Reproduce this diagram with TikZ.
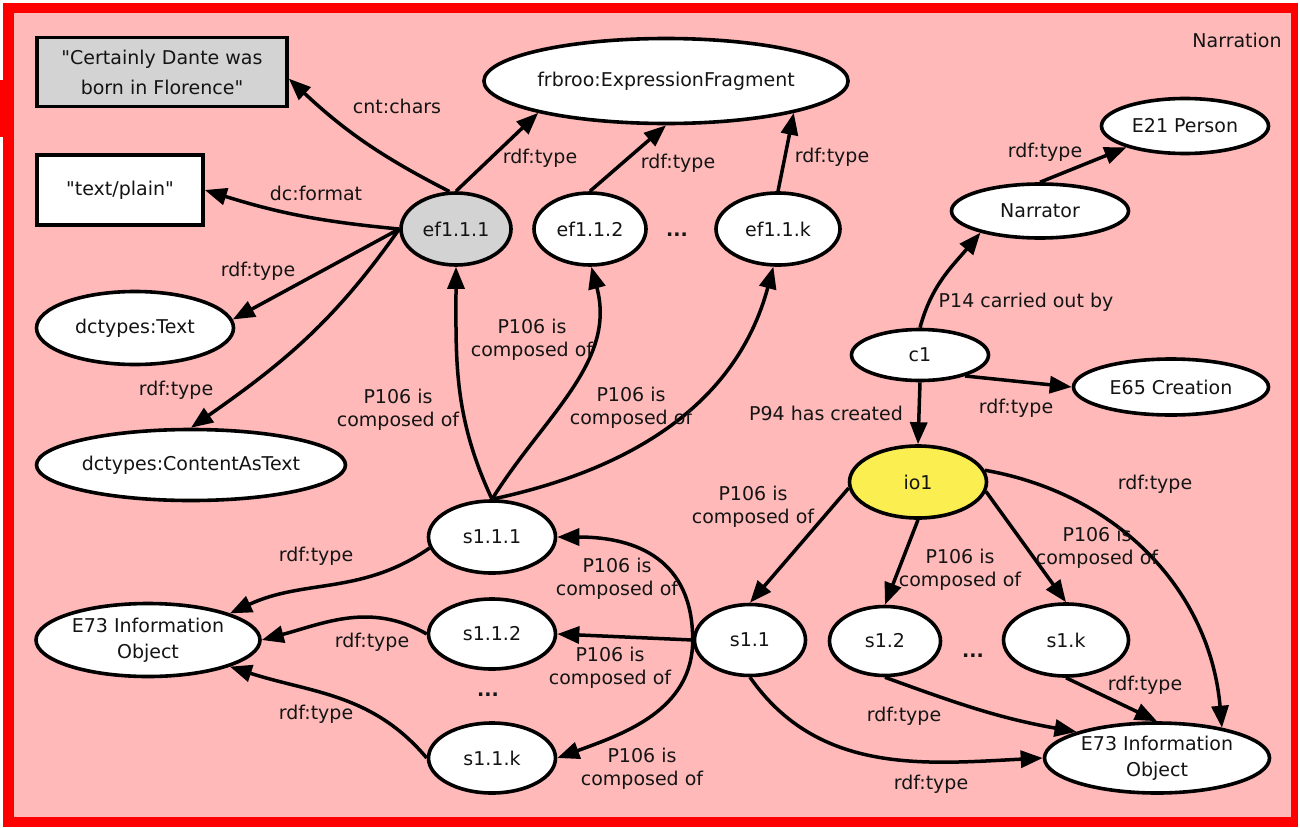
\documentclass[tikz,border=0pt]{standalone}
\usepackage{fontspec}
\setmainfont{DejaVu Sans}
\usetikzlibrary{shapes.geometric,arrows.meta}
\definecolor{bgpink}{RGB}{255,185,185}
\definecolor{framered}{RGB}{255,0,0}
\definecolor{nodegray}{RGB}{211,211,211}
\definecolor{ioyellow}{RGB}{250,238,80}
\definecolor{txt}{RGB}{20,20,20}
\newcommand\lbfont{\fontsize{19}{23}\selectfont}
\tikzset{
  ent/.style={ellipse, draw=black, line width=3.6pt, fill=white, inner sep=0pt, text=txt, font=\lbfont},
  boxnode/.style={rectangle, draw=black, line width=3.6pt, fill=white, inner sep=0pt, text=txt, align=center},
  lbl/.style={text=txt, font=\lbfont, align=center, inner sep=0pt},
  dotlbl/.style={text=txt, font=\lbfont\bfseries, inner sep=0pt},
  edge/.style={line width=3.5pt, draw=black, -{Triangle[length=22pt,width=17pt]}},
}
\begin{document}
\begin{tikzpicture}[x=1pt,y=1pt]
\useasboundingbox (0,0) rectangle (1300,-827);
\fill[white] (0,0) rectangle (1300,-827);
\fill[framered] (3,-3) rectangle (1298,-827);
\fill[framered] (0,-80) rectangle (14,-137);
\fill[bgpink] (14,-13) rectangle (1291,-817);

% nodes
\node[boxnode, fill=nodegray, minimum width=250, minimum height=69, font=\fontsize{19}{30}\selectfont] (cert) at (162,-72) {\textquotedbl Certainly Dante was\\born in Florence\textquotedbl};
\node[boxnode, minimum width=166, minimum height=70, font=\lbfont] (plain) at (120,-190) {\textquotedbl text/plain\textquotedbl};
\node[ent, fill=nodegray, minimum width=110, minimum height=72] (ef111) at (456,-229) {ef1.1.1};
\node[ent, minimum width=112, minimum height=72] (ef112) at (590,-229) {ef1.1.2};
\node[ent, minimum width=124, minimum height=72] (ef11k) at (778,-229) {ef1.1.k};
\node[ent, minimum width=364, minimum height=85] (frbroo) at (666,-81) {frbroo:ExpressionFragment};
\node[ent, minimum width=167, minimum height=55] (e21) at (1185,-126) {E21 Person};
\node[ent, minimum width=177, minimum height=54] (narr) at (1040,-211) {Narrator};
\node[ent, minimum width=137, minimum height=51] (c1) at (920,-355) {c1};
\node[ent, minimum width=195, minimum height=56] (e65) at (1171,-387) {E65 Creation};
\node[ent, fill=ioyellow, minimum width=137, minimum height=72] (io1) at (918,-482) {io1};
\node[ent, minimum width=197, minimum height=73] (dctext) at (135,-328) {dctypes:Text};
\node[ent, minimum width=309, minimum height=71] (dccat) at (191,-465) {dctypes:ContentAsText};
\node[ent, minimum width=127, minimum height=72] (s111) at (492,-537) {s1.1.1};
\node[ent, minimum width=127, minimum height=70] (s112) at (492,-634) {s1.1.2};
\node[ent, minimum width=127, minimum height=70] (s11k) at (492,-758) {s1.1.k};
\node[ent, minimum width=111, minimum height=71] (s11) at (750,-640) {s1.1};
\node[ent, minimum width=111, minimum height=69] (s12) at (885,-641) {s1.2};
\node[ent, minimum width=125, minimum height=72] (s1k) at (1066,-640) {s1.k};
\node[ent, minimum width=225, minimum height=70, align=center, font=\fontsize{19}{26}\selectfont] (e73r) at (1157,-758) {E73 Information\\Object};
\node[ent, minimum width=224, minimum height=73, align=center, font=\fontsize{19}{26}\selectfont] (e73l) at (148,-640) {E73 Information\\Object};

% edges
\draw[edge] (ef111.100) to[bend left=8] (cert.-3);
\draw[edge] (ef111.west) to[bend left=6] (plain.east);
\draw[edge] (ef111.west) -- (dctext.5);
\draw[edge] (ef111.west) to[out=-125,in=35] (dccat.north);
\draw[edge] (ef111.north) -- (frbroo.194);
\draw[edge] (ef112.north) -- (frbroo.south);
\draw[edge] (ef11k.north) -- (frbroo.-14);
\draw[edge] (s111.north) to[out=115,in=-90] (ef111.south);
\draw[edge] (s111.north) to[out=58,in=-75] (ef112.-88);
\draw[edge] (s111.north) to[out=12,in=-105] (ef11k.-97);
\draw[edge] (s111.190) to[out=215,in=25] (e73l.18);
\draw[edge] (s112.west) to[out=150,in=15] (e73l.east);
\draw[edge] (s11k.west) to[out=130,in=-18] (e73l.-18);
\draw[edge] (s11.west) to[out=90,in=0,looseness=1.2] (s111.east);
\draw[edge] (s11.west) -- (s112.east);
\draw[edge] (s11.west) to[out=-90,in=20] (s11k.east);
\draw[edge] (io1.185) -- (s11.north);
\draw[edge] (io1.south) -- (s12.north);
\draw[edge] (io1.-8) -- (s1k.north);
\draw[edge] (io1.10) to[out=-10,in=95] (e73r.25);
\draw[edge] (s12.south) to[out=-20,in=170] (e73r.162);
\draw[edge] (s1k.south) -- (e73r.north);
\draw[edge] (s11.south) to[out=-55,in=183] (e73r.west);
\draw[edge] (c1.south) -- (io1.north);
\draw[edge] (c1.-25) -- (e65.west);
\draw[edge] (c1.north) to[out=75,in=-130] (narr.200);
\draw[edge] (narr.north) -- (e21.200);

% labels
\node[lbl] (title) at (1237,-40) {Narration};
\node[lbl] (lcnt) at (397,-106) {cnt:chars};
\node[lbl] (ldcf) at (316,-193) {dc:format};
\node[lbl] (lt1) at (258,-271) {rdf:type};
\node[lbl] (lt2) at (176,-390) {rdf:type};
\node[lbl] (lt3) at (540,-158) {rdf:type};
\node[lbl] (lt4) at (678,-163) {rdf:type};
\node[lbl] (lt5) at (832,-157) {rdf:type};
\node[lbl] (lp1) at (398,-410) {P106 is\\composed of};
\node[lbl] (lp2) at (532,-340) {P106 is\\composed of};
\node[lbl] (lp3) at (631,-408) {P106 is\\composed of};
\node[lbl] (lp94) at (826,-413) {P94 has created};
\node[lbl] (lp4) at (753,-507) {P106 is\\composed of};
\node[lbl] (lp5) at (617,-579) {P106 is\\composed of};
\node[lbl] (lt6) at (316,-556) {rdf:type};
\node[lbl] (lt7) at (372,-642) {rdf:type};
\node[lbl] (lt8) at (316,-714) {rdf:type};
\node[lbl] (lp6) at (610,-668) {P106 is\\composed of};
\node[lbl] (lp7) at (642,-769) {P106 is\\composed of};
\node[lbl] (lp14) at (1026,-302) {P14 carried out by};
\node[lbl] (lt9) at (1016,-408) {rdf:type};
\node[lbl] (lt10) at (1045,-152) {rdf:type};
\node[lbl] (lt11) at (1155,-484) {rdf:type};
\node[lbl] (lp8) at (960,-570) {P106 is\\composed of};
\node[lbl] (lp9) at (1097,-548) {P106 is\\composed of};
\node[lbl] (lt12) at (1145,-685) {rdf:type};
\node[lbl] (lt13) at (904,-716) {rdf:type};
\node[lbl] (lt14) at (931,-784) {rdf:type};
\node[dotlbl] (dots1) at (677,-235) {...};
\node[dotlbl] (dots2) at (488,-695) {...};
\node[dotlbl] (dots3) at (973,-656) {...};
\end{tikzpicture}
\end{document}
